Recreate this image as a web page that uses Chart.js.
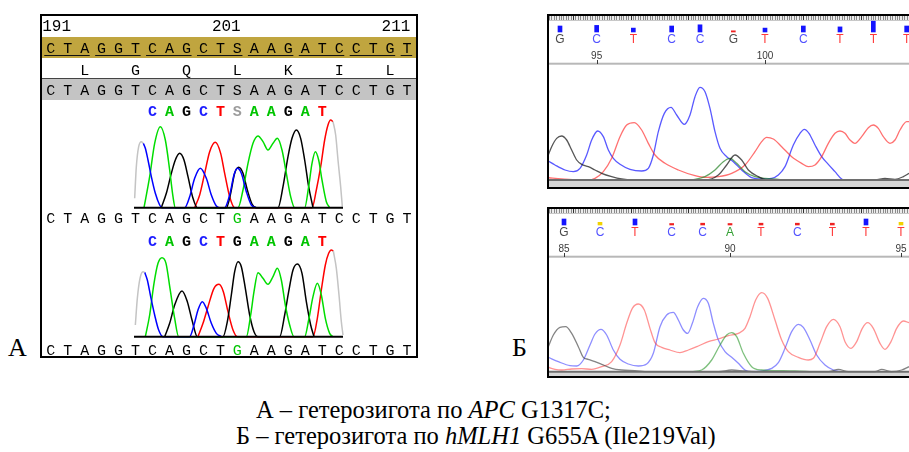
<!DOCTYPE html>
<html lang="ru">
<head>
<meta charset="utf-8">
<title>Хроматограммы APC и hMLH1</title>
<script src="https://cdn.jsdelivr.net/npm/chart.js"></script>
<style>
  html, body { margin: 0; padding: 0; background: #fff; }
  #page { position: relative; width: 909px; height: 452px; overflow: hidden; background: #fff; }
  .frame { position: absolute; box-sizing: border-box; border: 2px solid #000; }
  .band { position: absolute; left: 0; right: 0; }
  .frame canvas { position: absolute; left: 0; top: 0; }
  .ruler { position: absolute; left: 0; right: 0; top: 0; height: 4px; border-bottom: 1px solid #c8c8c8;
           background-color: #ececec;
           background-image: repeating-linear-gradient(90deg, #333 0 1px, transparent 1px 57.6px),
                             repeating-linear-gradient(90deg, #8a8a8a 0 1px, transparent 1px 2.4px);
           background-position: 24px 0, 0 0; }
  .panel { position: absolute; font: 26px "Liberation Serif", "Times New Roman", serif; line-height: 26px; }
  .cap { position: absolute; font: 24.5px "Liberation Serif", "Times New Roman", serif; line-height: 26px; white-space: nowrap; }
</style>
</head>
<body>
<div id="page">
  <div class="frame" style="left:40px; top:14px; width:378px; height:344px;">
    <div class="band" style="top:21px; height:21px; background:#c0a53f;"></div>
    <div class="band" style="top:62px; height:21px; background:#c4c4c4; border-top:1px solid #444;"></div>
    <canvas id="chartA" width="374" height="340"></canvas>
  </div>
  <div class="frame" style="left:547px; top:14px; width:400px; height:175px; border-right:none;">
    <div class="ruler"></div>
    <div class="band" style="bottom:0; height:6px; background:#d6d6d6;"></div>
    <canvas id="chartB1" width="360" height="171"></canvas>
  </div>
  <div class="frame" style="left:547px; top:207px; width:400px; height:171px; border-right:none;">
    <div class="ruler"></div>
    <div class="band" style="bottom:0; height:5px; background:#d6d6d6;"></div>
    <canvas id="chartB2" width="360" height="167"></canvas>
  </div>
  <div class="panel" style="left:8px; top:335px;">А</div>
  <div class="panel" style="left:512px; top:335px;">Б</div>
  <div class="cap" style="left:256px; top:397px;">А – гетерозигота по <i>APC</i> G1317C;</div>
  <div class="cap" style="left:236px; top:423px;">Б – гетерозигота по <i>hMLH1</i> G655A (Ile219Val)</div>
</div>
<script>
// ---------- panel A: APC, positions 191..212 ----------
const refSeq = 'CTAGGTCAGCTSAAGATCCTGT';
const firstPos = 191;
const headerTicks = [191, 201, 211];
const aaLetters = ['L', 'G', 'Q', 'L', 'K', 'I', 'L'];
const aaPos = [193, 196, 199, 202, 205, 208, 211];
const read1 = 'CAGCTSAAGAT';
const read2 = 'CAGCTGAAGAT';
const readStart = 197;
const consensus = 'CTAGGTCAGCTGAAGATCCTGT';
const variantPos = 202;

// traces: [scan, intensity]
const a1Gray = [[290,28],[295,123],[302,183],[310,198],[316,193]];
const a1Blue = [[316,193],[322,178],[330,143],[340,93],[352,43],[365,8],[372,0],[440,0],[455,33],[470,88],[487,118],[505,88],[520,38],[535,5],[545,0],[560,0],[575,38],[588,98],[598,118],[610,103],[625,48],[640,8],[655,0]];
const a1Green = [[318,0],[335,93],[350,193],[367,243],[382,203],[395,113],[405,33],[412,0],[600,0],[615,53],[630,133],[645,193],[660,215],[675,198],[690,173],[705,193],[718,208],[732,173],[745,103],[758,33],[770,0],[800,0],[812,63],[822,133],[832,168],[842,143],[852,83],[865,18],[875,0]];
const a1Black = [[370,0],[385,43],[400,103],[412,143],[425,163],[438,143],[450,93],[465,28],[478,0],[565,0],[578,43],[590,103],[602,121],[615,103],[628,53],[642,11],[655,0],[720,0],[735,63],[750,153],[762,208],[775,233],[788,208],[800,143],[812,63],[825,0]];
const a1Red = [[470,0],[485,38],[500,103],[515,168],[532,196],[548,163],[560,103],[575,33],[590,0],[822,0],[835,53],[848,123],[860,203],[870,248],[878,263],[885,258]];
const a1RedGray = [[885,258],[893,218],[900,143],[908,63],[913,3]];

const a2Gray = [[292,35],[298,115],[306,175],[315,195],[320,193]];
const a2Blue = [[320,193],[328,170],[338,120],[350,65],[362,20],[375,0],[455,0],[468,35],[480,80],[493,105],[505,85],[520,40],[535,10],[550,0]];
const a2Green = [[322,0],[335,65],[348,160],[360,220],[372,237],[384,220],[396,145],[410,55],[422,0],[625,0],[638,65],[648,135],[660,192],[675,175],[690,157],[705,180],[718,205],[730,170],[742,95],[755,35],[768,0],[800,0],[812,50],[825,120],[838,160],[850,125],[862,55],[875,10],[885,0]];
const a2Black = [[380,0],[395,40],[410,95],[432,137],[448,105],[462,50],[478,0],[555,0],[568,45],[580,125],[590,195],[600,225],[610,210],[622,145],[635,65],[648,15],[660,0],[725,0],[740,65],[752,135],[765,200],[778,218],[792,190],[805,105],[818,35],[828,0]];
const a2Red = [[480,0],[495,40],[510,90],[528,145],[543,157],[556,135],[570,75],[585,20],[598,0],[825,0],[838,55],[850,140],[862,215],[872,250],[880,260],[886,257]];
const a2RedGray = [[886,257],[895,205],[903,125],[910,45],[915,5]];
const aBaseline = [[288,0],[915,0]];

// ---------- panel B: hMLH1 ----------
const b1Bases = 'GCTCCGTCTTT';
const b1Scans = [45,155,265,380,465,565,660,775,885,985,1085];
const b1Qv = [20,22,13,20,24,4,13,20,17,36,20];
const b1First = 94;
const b1Black = [[10,75],[20,100],[35,125],[50,132],[65,120],[80,90],[95,60],[110,47],[130,40],[150,30],[170,20],[200,10],[230,3],[260,0],[480,0],[520,15],[545,45],[570,75],[590,60],[610,30],[640,10],[665,0],[990,0],[1020,5],[1050,2],[1075,10],[1092,20]];
const b1Blue = [[10,57],[30,45],[60,30],[85,25],[105,35],[125,75],[140,120],[158,147],[175,130],[190,90],[205,65],[225,47],[255,32],[290,27],[310,35],[325,75],[340,145],[358,200],[378,218],[395,195],[418,167],[435,195],[450,250],[465,278],[480,265],[495,215],[510,145],[525,95],[545,70],[565,55],[590,30],[620,7],[650,3],[680,5],[700,15],[720,40],[745,105],[765,140],[778,152],[792,140],[810,105],[830,70],[850,47],[870,25],[890,3],[900,0]];
const b1Red = [[10,7],[50,3],[100,0],[130,0],[150,5],[175,25],[200,65],[225,130],[245,165],[268,172],[290,150],[310,110],[330,75],[360,50],[400,30],[450,13],[480,8],[520,10],[560,20],[600,45],[630,85],[650,115],[665,128],[685,123],[710,100],[740,70],[770,50],[790,40],[810,45],[830,70],[850,110],[870,140],[885,147],[900,140],[915,120],[930,110],[950,130],[970,157],[985,165],[1000,155],[1015,130],[1035,110],[1050,120],[1065,150],[1085,175],[1092,175]];
const b1Green = [[440,0],[480,10],[510,30],[535,55],[555,65],[575,50],[600,25],[630,10],[660,5],[700,2],[720,0]];

const b2Bases = 'GCTCCATCTTT';
const b2Scans = [57,165,270,380,473,555,648,757,862,963,1068];
const b2Qv = [20,9,20,5,6,5,6,6,6,20,9];
const b2First = 85;
const b2Black = [[10,75],[25,110],[45,133],[62,135],[80,115],[100,75],[115,43],[130,37],[150,30],[170,22],[200,10],[230,5],[270,3],[310,0],[520,0],[560,5],[600,2],[650,0],[850,0],[880,7],[910,0],[990,0],[1010,7],[1040,0],[1070,5],[1092,15]];
const b2Blue = [[10,43],[40,30],[75,18],[95,17],[115,35],[135,80],[150,113],[168,127],[185,110],[205,65],[225,37],[250,23],[280,17],[305,23],[325,55],[345,135],[365,170],[385,178],[400,155],[415,125],[428,115],[442,145],[458,195],[475,220],[490,205],[505,145],[520,95],[540,60],[560,43],[580,25],[600,5],[620,0],[650,2],[680,10],[700,27],[720,70],[740,120],[760,142],[775,133],[795,95],[815,50],[840,20],[865,5],[885,0]];
const b2Red = [[10,13],[30,7],[50,5],[80,8],[110,9],[140,7],[170,15],[200,30],[225,80],[245,145],[262,190],[280,203],[298,185],[315,130],[330,87],[350,73],[375,65],[405,57],[430,65],[460,77],[490,90],[520,98],[550,108],[580,115],[600,130],[615,165],[632,215],[650,237],[668,220],[690,155],[710,95],[730,60],[760,43],[790,35],[805,40],[825,85],[845,135],[865,157],[885,135],[900,90],[918,70],[935,90],[952,130],[968,147],[985,130],[1005,85],[1020,67],[1038,90],[1055,130],[1075,152],[1092,147]];
const b2Green = [[440,0],[470,5],[500,35],[525,80],[545,110],[560,117],[575,105],[595,55],[620,15],[650,5],[700,3],[750,2],[800,0]];
const bBaseline = [[0,0],[1100,0]];

// ---------- helpers ----------
const colA = { A: '#00c400', C: '#1c1cff', G: '#000000', T: '#ff0000', S: '#9c9c9c' };
const colB = { A: '#35a035', C: '#5252ff', G: '#4a4a4a', T: '#ff3a3a' };

function trace(arr, color, yId, width) {
  return {
    type: 'line', data: arr.map(p => ({ x: p[0], y: p[1] })),
    borderColor: color, borderWidth: width || 1.5, pointRadius: 0, fill: false,
    cubicInterpolationMode: 'monotone', xAxisID: 'xs', yAxisID: yId
  };
}
// offset:false so the bar dataset does not pad the scan axis
function lin(min, max) { return { type: 'linear', display: false, offset: false, beginAtZero: false, min: min, max: max }; }
function qColor(q) { return q >= 12 ? '#1414ff' : (q >= 8 ? '#f2d200' : '#ee2222'); }
function opts(scales, extra) {
  return {
    responsive: false, animation: false, events: [],
    layout: { padding: 0 },
    plugins: Object.assign({ legend: { display: false }, tooltip: { enabled: false } }, extra || {}),
    scales: scales
  };
}

// ---------- text rows of panel A ----------
const panelAText = {
  id: 'panelAText',
  afterDatasetsDraw(chart) {
    const ctx = chart.ctx, xb = chart.scales.xb;
    const at = v => xb.getPixelForValue(v);
    const row = (s, start, y, colorOf) => {
      for (let i = 0; i < s.length; i++) {
        ctx.fillStyle = colorOf(s[i], start + i);
        ctx.fillText(s[i], at(start + i), y);
      }
    };
    ctx.save();
    ctx.textBaseline = 'alphabetic';
    ctx.font = '16px "Liberation Mono", monospace';
    ctx.fillStyle = '#000';
    ctx.textAlign = 'left';
    headerTicks.forEach(n => ctx.fillText(String(n), at(n - 0.5), 14.5));

    ctx.textAlign = 'center';
    ctx.font = '15px "Liberation Mono", monospace';
    row(refSeq, firstPos, 36.5, () => '#000');
    ctx.strokeStyle = '#111';
    ctx.lineWidth = 1;
    for (let i = 0; i < refSeq.length; i += 3) {
      const j = Math.min(i + 2, refSeq.length - 1);
      ctx.beginPath();
      ctx.moveTo(at(firstPos + i - 0.38), 39.5);
      ctx.lineTo(at(firstPos + j + 0.3), 39.5);
      ctx.stroke();
    }
    aaLetters.forEach((a, i) => { ctx.fillStyle = '#000'; ctx.fillText(a, at(aaPos[i]), 59.3); });
    row(refSeq, firstPos, 78.7, () => '#000');

    ctx.font = 'bold 15px "Liberation Mono", monospace';
    row(read1, readStart, 100, c => colA[c]);
    row(read2, readStart, 229.7, c => colA[c]);
    ctx.font = '15px "Liberation Mono", monospace';
    row(consensus, firstPos, 207.3, (c, p) => p === variantPos ? colA.A : '#000');
    row(consensus, firstPos, 339, (c, p) => p === variantPos ? colA.A : '#000');
    ctx.restore();
  }
};

// ---------- base calls of panel B ----------
const callsPlugin = {
  id: 'calls',
  afterDatasetsDraw(chart, args, o) {
    const ctx = chart.ctx, xs = chart.scales.xs;
    ctx.save();
    ctx.fillStyle = '#b8b8b8';
    ctx.fillRect(0, 46.7, chart.width, 2);
    ctx.textAlign = 'center';
    ctx.textBaseline = 'alphabetic';
    for (let i = 0; i < o.bases.length; i++) {
      const b = o.bases[i];
      const x = xs.getPixelForValue(o.scans[i]);
      ctx.font = '12px "Liberation Sans", Arial, sans-serif';
      ctx.fillStyle = colB[b];
      ctx.fillText(b, x, o.letterY);
      const n = o.first + i;
      if (n % 5 === 0) {
        ctx.font = '10px "Liberation Sans", Arial, sans-serif';
        ctx.fillStyle = '#3a3a3a';
        ctx.fillText(String(n), x, 42.5);
        ctx.fillRect(Math.round(x), 44, 1, 4);
      }
    }
    ctx.restore();
  }
};

// ---------- chart A ----------
new Chart(document.getElementById('chartA'), {
  type: 'line',
  data: {
    datasets: [
      trace(aBaseline, '#000', 'yt', 2),
      trace(aBaseline, '#000', 'yb', 2),
      trace(a1Gray, '#c4c4c4', 'yt'),
      trace(a1RedGray, '#c4c4c4', 'yt'),
      trace(a1Blue, '#0000ff', 'yt'),
      trace(a1Green, '#00dd00', 'yt'),
      trace(a1Black, '#000000', 'yt'),
      trace(a1Red, '#ff0000', 'yt'),
      trace(a2Gray, '#c4c4c4', 'yb'),
      trace(a2RedGray, '#c4c4c4', 'yb'),
      trace(a2Blue, '#0000ff', 'yb'),
      trace(a2Green, '#00dd00', 'yb'),
      trace(a2Black, '#000000', 'yb'),
      trace(a2Red, '#ff0000', 'yb')
    ]
  },
  options: opts({
    xs: lin(12, 1134),
    xb: lin(190.487, 212.526),
    yt: lin(-445, 575),
    yb: lin(-58, 962)
  }),
  plugins: [panelAText]
});

// ---------- charts B ----------
function chartB(id, bases, scans, qv, first, tr, col, yMin, yMax, qMin, letterY) {
  const ds = [trace(bBaseline, '#6e6e6e', 'yi', 2)];
  ds.push(trace(tr.black, col.black, 'yi', 1.3));
  ds.push(trace(tr.green, col.green, 'yi', 1.3));
  ds.push(trace(tr.red, col.red, 'yi', 1.3));
  ds.push(trace(tr.blue, col.blue, 'yi', 1.3));
  ds.push({
    type: 'bar', data: scans.map((s, i) => ({ x: s, y: qv[i] })),
    backgroundColor: qv.map(qColor), barThickness: 4, xAxisID: 'xs', yAxisID: 'yq'
  });
  new Chart(document.getElementById(id), {
    type: 'line',
    data: { datasets: ds },
    options: opts({
      xs: lin(12, 1092),
      yi: lin(yMin, yMax),
      yq: lin(qMin, 53.33)
    }, { calls: { bases: bases, scans: scans, first: first, letterY: letterY } }),
    plugins: [callsPlugin]
  });
}

chartB('chartB1', b1Bases, b1Scans, b1Qv, b1First,
  { black: b1Black, green: b1Green, red: b1Red, blue: b1Blue },
  { black: 'rgba(30,30,30,0.75)', green: 'rgba(20,120,20,0.65)', red: 'rgba(255,25,25,0.62)', blue: 'rgba(25,25,255,0.72)' },
  -21, 492, -516.67, 27);

chartB('chartB2', b2Bases, b2Scans, b2Qv, b2First,
  { black: b2Black, green: b2Green, red: b2Red, blue: b2Blue },
  { black: 'rgba(50,50,50,0.6)', green: 'rgba(40,150,40,0.6)', red: 'rgba(255,40,40,0.5)', blue: 'rgba(50,50,255,0.55)' },
  -13, 488, -503.33, 26.5);
</script>
</body>
</html>
